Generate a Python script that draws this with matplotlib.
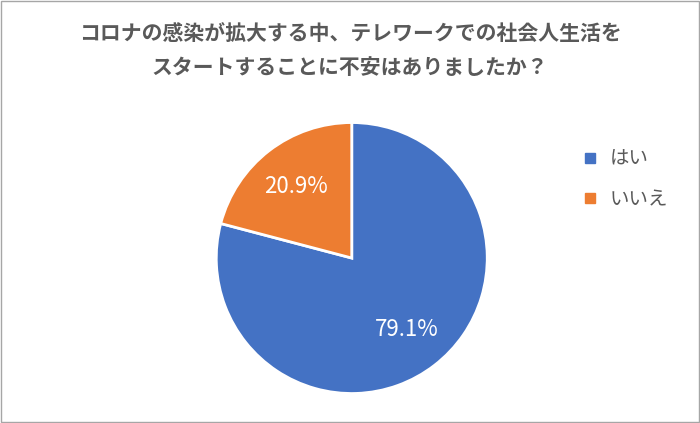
import matplotlib
matplotlib.use("Agg")
import matplotlib.pyplot as plt
from matplotlib.patches import Rectangle
from matplotlib.lines import Line2D

plt.rcParams['font.family'] = ['Noto Sans CJK JP', 'DejaVu Sans']

labels = ["はい", "いいえ"]
values = [79.1, 20.9]
colors = ["#4472C4", "#ED7D31"]
title = "コロナの感染が拡大する中、テレワークでの社会人生活を\nスタートすることに不安はありましたか？"

fig = plt.figure(figsize=(7, 4.23), dpi=100)
fig.patches.append(Rectangle((0.002, 0.002), 0.996, 0.996, transform=fig.transFigure,
                             fill=False, edgecolor="#A6A6A6", linewidth=1))
ax = fig.add_axes([0.307, 0.066, 0.391, 0.648])
wedges, texts, autotexts = ax.pie(values, colors=colors, startangle=90, counterclock=False,
                                  autopct=lambda p: f"{p:.1f}%", pctdistance=0.67,
                                  wedgeprops=dict(edgecolor="white", linewidth=2),
                                  textprops=dict(color="white", fontsize=16))
ax.set_xlim(-1.01, 1.01)
ax.set_ylim(-1.01, 1.01)
ax.set_aspect('equal')
fig.text(0.5, 0.88, title, ha="center", va="center", fontsize=15, fontweight="bold",
         color="#595959", linespacing=1.75)
handles = [Line2D([], [], marker='s', linestyle='', color=c, markersize=7) for c in colors]
fig.legend(handles, labels, loc="upper left", bbox_to_anchor=(0.79, 0.69), frameon=False,
           fontsize=14, labelcolor="#595959", handletextpad=0.0, labelspacing=1.0)
fig.savefig("out.png", dpi=100)
